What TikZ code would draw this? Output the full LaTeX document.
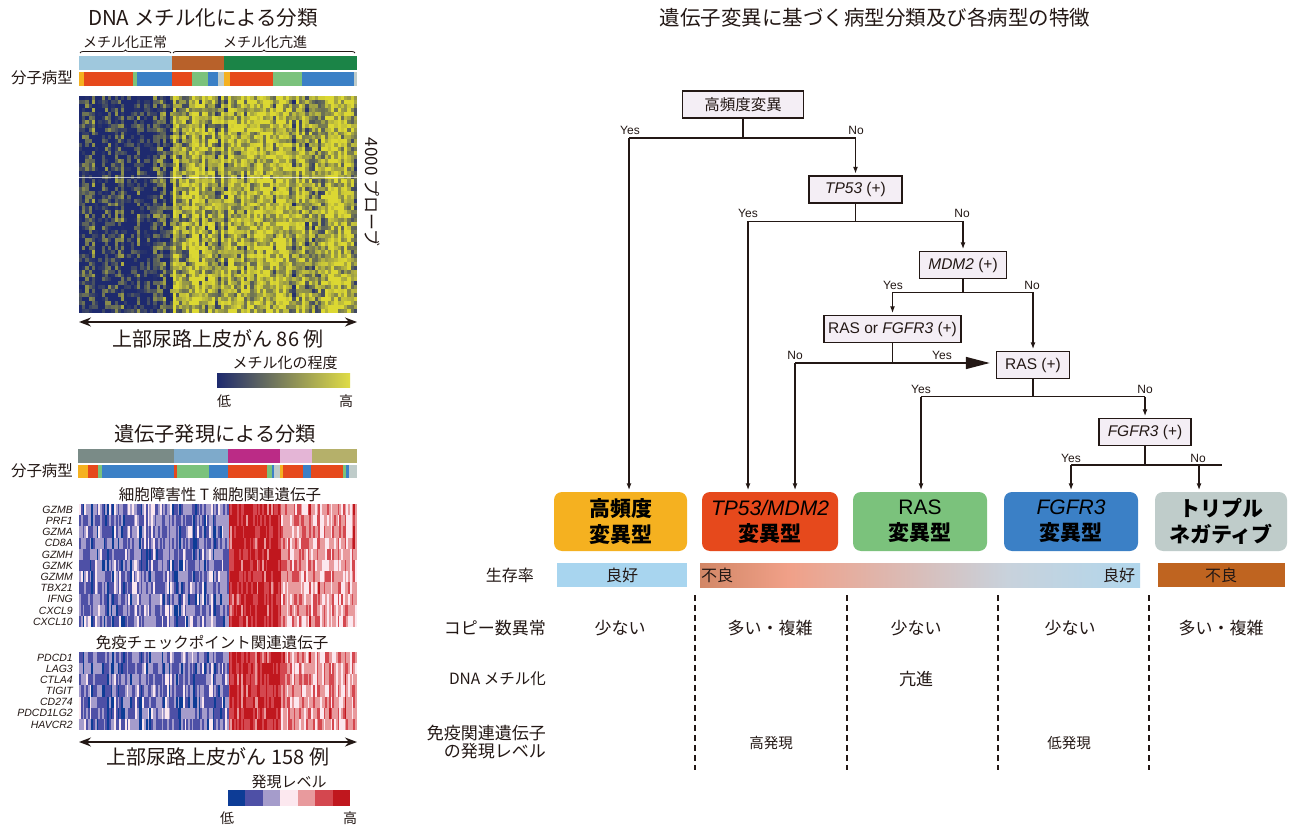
\documentclass[tikz,border=0pt]{standalone}
\usepackage{fontspec}
\setmainfont{Liberation Sans}
\newfontfamily\jp{Noto Sans CJK JP}
\usetikzlibrary{arrows.meta,decorations.pathreplacing}
\definecolor{ink}{HTML}{231815}
\definecolor{hmlo}{HTML}{1E2A6E}
\definecolor{hmhi}{HTML}{DCD832}
\definecolor{e1}{HTML}{0D3C96}
\definecolor{e2}{HTML}{4E50A6}
\definecolor{e3}{HTML}{A59CCB}
\definecolor{e4}{HTML}{FCE8EF}
\definecolor{e5}{HTML}{E89A9D}
\definecolor{e6}{HTML}{D4474F}
\definecolor{e7}{HTML}{C0171E}
\definecolor{cHF}{HTML}{F5B120}
\definecolor{cTP}{HTML}{E6491C}
\definecolor{cRAS}{HTML}{7BC27C}
\definecolor{cFG}{HTML}{3B80C6}
\definecolor{cTN}{HTML}{BFCCCA}
\definecolor{mNorm}{HTML}{9FC8DD}
\definecolor{mBrown}{HTML}{B8612A}
\definecolor{mGreen}{HTML}{1B8447}
\definecolor{gGrey}{HTML}{7A8B87}
\definecolor{gSteel}{HTML}{7EAACB}
\definecolor{gMag}{HTML}{BB2B86}
\definecolor{gPink}{HTML}{E4B5D6}
\definecolor{gOlive}{HTML}{B5B06A}
\definecolor{sLight}{HTML}{A8D5EF}
\definecolor{sBrown}{HTML}{BF6420}
\definecolor{gA}{HTML}{9C5A2A}
\definecolor{gB}{HTML}{F0A088}
\definecolor{gC}{HTML}{C8D2DC}
\definecolor{gD}{HTML}{A9D8F2}
\definecolor{fbfill}{HTML}{F4EEF5}
\pgfdeclarehorizontalshading{surv}{100bp}{color(0bp)=(gA); color(14bp)=(gA!75!gB); color(35bp)=(gB); color(60bp)=(gC); color(80bp)=(gD); color(100bp)=(gD)}
\tikzset{
  ln/.style={draw=ink, line width=1.5pt},
  arr/.style={ln, -{Latex[length=7pt,width=5pt]}, shorten >=1.5pt},
  bigarr/.style={ln, -{Triangle[length=24pt,width=12pt]}, shorten >=6pt},
  dbl/.style={line width=1.6pt, draw=ink, {Stealth[length=12pt,width=9pt]}-{Stealth[length=12pt,width=9pt]}},
  fbox/.style={draw=ink, line width=1.4pt, fill=fbfill, minimum height=27pt, inner sep=0pt, font=\fontsize{15.5}{17}\selectfont, text=ink},
  yn/.style={font=\fontsize{12}{13}\selectfont, text=ink, inner sep=0pt},
  sbox/.style={rounded corners=8pt, minimum height=59pt, inner sep=0pt, align=center, text=black, font=\jp\bfseries\fontsize{21}{26}\selectfont},
  jt/.style={font=\jp\fontsize{16}{19}\selectfont, text=ink, inner sep=0pt},
  tb/.style={font=\jp\fontsize{17}{20}\selectfont, text=ink, inner sep=0pt},
  gene/.style={font=\itshape\fontsize{10.5}{11}\selectfont, text=ink, anchor=east, inner sep=0pt},
  divider/.style={draw=ink, line width=1.2pt, dash pattern=on 6pt off 4pt},
  brc/.style={draw=ink, line width=0.8pt, decorate, decoration={brace, amplitude=3pt}},
}
\begin{document}
\begin{tikzpicture}[x=1pt,y=-1pt]
\useasboundingbox (0,0) rectangle (1294,829);
\fill[white] (0,0) rectangle (1294,829);
% ================= LEFT TOP: methylation =================
\node[jt, font=\jp\fontsize{20.5}{24}\selectfont] (t1) at (203,18) {DNA メチル化による分類};
\node[jt, font=\jp\fontsize{14}{16}\selectfont] (mn) at (125,42) {メチル化正常};
\node[jt, font=\jp\fontsize{14}{16}\selectfont] (mh) at (265,42) {メチル化亢進};
\draw[brc] (80,53) -- (171,53);
\draw[brc] (173,53) -- (355,53);
\fill[mNorm] (79,56) rectangle (172,70);
\fill[mBrown] (172,56) rectangle (224,70);
\fill[mGreen] (224,56) rectangle (357,70);
\foreach \a/\b/\col in {79/84/cHF,84/133/cTP,133/137/cRAS,137/172/cFG,172/192/cTP,192/208/cRAS,208/218/cFG,218/224/cTN,224/230/cHF,230/273/cTP,273/302/cRAS,302/354/cFG,354/357/cTN}
  {\fill[\col] (\a,72) rectangle (\b,86);}
\node[jt, font=\jp\fontsize{15.5}{18}\selectfont] (mt1) at (42,78) {分子病型};
\pgfmathsetseed{3}
\foreach \c in {0,...,85}{%
  \pgfmathsetmacro\cb{(\c<29 ? 10 : 74) + 60*(rnd-0.5)}%
  \foreach \r in {0,...,54}{%
    \pgfmathtruncatemacro\v{max(0,min(100,\cb+90*(rnd-0.5)))}%
    \pgfsetfillcolor{hmhi!\v!hmlo}%
    \pgfpathrectangle{\pgfpointxy{79+3.2326*\c}{96+3.945*\r}}{\pgfpointxy{3.3}{4.0}}%
    \pgfusepath{fill}%
  }%
}
\draw[white, line width=0.7pt, opacity=0.7] (79,177) -- (357,177);
\node[jt, rotate=-90, font=\jp\fontsize{17}{19}\selectfont] (probe) at (372,192) {4000 プローブ};
\coordinate (d1l) at (79,322);
\coordinate (d1r) at (357,322);
\draw[dbl] (d1l) -- (d1r);
\node[jt, font=\jp\fontsize{20}{23}\selectfont] (n86) at (218,339) {上部尿路上皮がん 86 例};
\node[jt, font=\jp\fontsize{15}{17}\selectfont] (mlev) at (285,363) {メチル化の程度};
\shade[left color=hmlo, middle color=hmhi!45!hmlo, right color=hmhi!90!white] (217,373) rectangle (350,387);
\node[jt, font=\jp\fontsize{14}{16}\selectfont] (lo1) at (224,401) {低};
\node[jt, font=\jp\fontsize{14}{16}\selectfont] (hi1) at (346,401) {高};
% ================= LEFT BOTTOM: expression =================
\node[jt, font=\jp\fontsize{20.2}{24}\selectfont] (t2) at (215,434) {遺伝子発現による分類};
\fill[gGrey] (78,449) rectangle (174,463);
\fill[gSteel] (174,449) rectangle (228,463);
\fill[gMag] (228,449) rectangle (280,463);
\fill[gPink] (280,449) rectangle (312,463);
\fill[gOlive] (312,449) rectangle (357,463);
\foreach \a/\b/\col in {78/88/cHF,88/98/cTP,98/102/cRAS,102/174/cFG,174/177/cTP,177/209/cRAS,209/228/cFG,228/267/cTP,267/272/cRAS,272/274/cFG,274/280/cTN,280/283/cHF,283/303/cTP,303/311/cFG,311/343/cTP,343/346/cRAS,346/349/cFG,349/357/cTN}
  {\fill[\col] (\a,465) rectangle (\b,478);}
\node[jt, font=\jp\fontsize{15.5}{18}\selectfont] (mt2) at (42,471) {分子病型};
\node[jt, font=\jp\fontsize{15.5}{18}\selectfont] (ctl) at (220,495) {細胞障害性 T 細胞関連遺伝子};
\node[jt, font=\jp\fontsize{15.5}{18}\selectfont] (icp) at (212,643) {免疫チェックポイント関連遺伝子};
\pgfmathsetseed{11}
\foreach \c in {0,...,157}{%
  \pgfmathsetmacro\cb{(\c<85 ? 2.55 : (\c<115 ? 6.5 : (\c<133 ? 5.2 : 5.0))) + 1.5*(rnd-0.5)}%
  \foreach \r in {0,...,10}{%
    \pgfmathtruncatemacro\lv{max(1,min(7,round(\cb+2.2*(rnd-0.5))))}%
    \pgfsetfillcolor{e\lv}%
    \pgfpathrectangle{\pgfpointxy{79+1.7595*\c}{504+11.2*\r}}{\pgfpointxy{1.8}{11.25}}%
    \pgfusepath{fill}%
  }%
  \foreach \r in {0,...,6}{%
    \pgfmathtruncatemacro\lv{max(1,min(7,round(\cb+2.2*(rnd-0.5))))}%
    \pgfsetfillcolor{e\lv}%
    \pgfpathrectangle{\pgfpointxy{79+1.7595*\c}{652+11.14*\r}}{\pgfpointxy{1.8}{11.2}}%
    \pgfusepath{fill}%
  }%
}
\foreach \g [count=\i from 0] in {GZMB,PRF1,GZMA,CD8A,GZMH,GZMK,GZMM,TBX21,IFNG,CXCL9,CXCL10}
  {\node[gene] (ga\i) at (73,509.6+11.2*\i) {\g};}
\foreach \g [count=\i from 0] in {PDCD1,LAG3,CTLA4,TIGIT,CD274,PDCD1LG2,HAVCR2}
  {\node[gene] (gb\i) at (73,657.6+11.14*\i) {\g};}
\coordinate (d2l) at (79,742);
\coordinate (d2r) at (357,742);
\draw[dbl] (d2l) -- (d2r);
\node[jt, font=\jp\fontsize{20}{23}\selectfont] (n158) at (218,757) {上部尿路上皮がん 158 例};
\node[jt, font=\jp\fontsize{15}{17}\selectfont] (elev) at (289,782) {発現レベル};
\foreach \k in {1,...,7}{\fill[e\k] (228+17.43*\k-17.43,790) rectangle (228+17.43*\k,806);}
\node[jt, font=\jp\fontsize{14}{16}\selectfont] (lo2) at (227,818) {低};
\node[jt, font=\jp\fontsize{14}{16}\selectfont] (hi2) at (350,818) {高};
% ================= RIGHT: flowchart =================
\node[jt, font=\jp\fontsize{20.5}{24}\selectfont] (t3) at (875,18) {遺伝子変異に基づく病型分類及び各病型の特徴};
\node[fbox, minimum width=121pt, font=\jp\fontsize{15.5}{17}\selectfont] (hf) at (743,104.5) {高頻度変異};
\node[fbox, minimum width=93pt] (tp) at (855.5,189.5) {\textit{TP53} (+)};
\node[fbox, minimum width=87pt] (mdm) at (963,265) {\textit{MDM2} (+)};
\node[fbox, minimum width=137pt] (rf) at (892.5,329) {RAS or \textit{FGFR3} (+)};
\node[fbox, minimum width=73pt] (ras) at (1033,365) {RAS (+)};
\node[fbox, minimum width=92pt] (fg) at (1145,432) {\textit{FGFR3} (+)};
\node[sbox, fill=cHF, minimum width=133pt] (s1) at (620.5,521.5) {高頻度\\変異型};
\node[sbox, fill=cTP, minimum width=136pt] (s2) at (770,521.5) {{\rmfamily\mdseries\itshape TP53/MDM2}\\変異型};
\node[sbox, fill=cRAS, minimum width=134pt] (s3) at (920,521.5) {{\rmfamily\mdseries RAS}\\変異型};
\node[sbox, fill=cFG, minimum width=134pt] (s4) at (1071,521.5) {{\rmfamily\mdseries\itshape FGFR3}\\変異型};
\node[sbox, fill=cTN, minimum width=132pt] (s5) at (1221,521.5) {トリプル\\ネガティブ};
% level 1
\coordinate (a1) at (629,138);
\coordinate (b1) at (855.5,138);
\draw[ln] (hf.south) -- (hf.south |- a1);
\draw[ln] (a1) -- (b1);
\draw[arr] (a1) -- (a1 |- s1.north);
\draw[arr] (b1) -- (tp.north);
\node[yn] at (630,130) {Yes};
\node[yn] at (856,130) {No};
% level 2
\coordinate (a2) at (748,221.5);
\coordinate (b2) at (963,221.5);
\draw[ln] (tp.south) -- (tp.south |- a2);
\draw[ln] (a2) -- (b2);
\draw[arr] (a2) -- (a2 |- s2.north);
\draw[arr] (b2) -- (mdm.north);
\node[yn] at (748,213) {Yes};
\node[yn] at (962,213) {No};
% level 3
\coordinate (a3) at (892.5,292.5);
\coordinate (b3) at (1033,292.5);
\draw[ln] (mdm.south) -- (mdm.south |- a3);
\draw[ln] (a3) -- (b3);
\draw[arr] (a3) -- (rf.north);
\draw[arr] (b3) -- (ras.north);
\node[yn] at (893,285) {Yes};
\node[yn] at (1032,285) {No};
% level 4
\coordinate (a4) at (795,363);
\draw[ln] (rf.south) -- (rf.south |- a4);
\draw[bigarr] (a4) -- (ras.west |- a4);
\draw[arr] (a4) -- (a4 |- s2.north);
\node[yn] at (795,355) {No};
\node[yn] at (942,355) {Yes};
% level 5
\coordinate (a5) at (921,396.5);
\coordinate (b5) at (1145,396.5);
\draw[ln] (ras.south) -- (ras.south |- a5);
\draw[ln] (a5) -- (b5);
\draw[arr] (a5) -- (a5 |- s3.north);
\draw[arr] (b5) -- (fg.north);
\node[yn] at (921,389) {Yes};
\node[yn] at (1145,389) {No};
% level 6
\coordinate (a6) at (1071,465);
\coordinate (b6) at (1199,465);
\coordinate (c6) at (1222,465);
\draw[ln] (fg.south) -- (fg.south |- a6);
\draw[ln] (a6) -- (c6);
\draw[arr] (a6) -- (a6 |- s4.north);
\draw[arr] (b6) -- (b6 |- s5.north);
\node[yn] at (1071,458) {Yes};
\node[yn] at (1198,458) {No};
% ================= survival & table =================
\node[jt, anchor=east] (lsurv) at (534,575) {生存率};
\fill[sLight] (557,563) rectangle (687,587);
\node[jt] (sv1) at (622,575) {良好};
\shade[shading=surv] (700,563) rectangle (1140,587);
\node[jt] (sv2) at (717,575) {不良};
\node[jt] (sv3) at (1119,575) {良好};
\fill[sBrown] (1158,563) rectangle (1285,587);
\node[jt] (sv4) at (1221,575) {不良};
\foreach \x in {695,847,998,1149}{\draw[divider] (\x,595) -- (\x,770);}
\node[tb, anchor=east] (lcn) at (546,628) {コピー数異常};
\node[tb, anchor=east, font=\jp\fontsize{15.5}{18}\selectfont] (ldna) at (546,679) {DNA メチル化};
\node[tb, anchor=east, align=right, font=\jp\fontsize{17}{18}\selectfont] (limm) at (546,742) {免疫関連遺伝子\\の発現レベル};
\node[tb] (cn1) at (620,628) {少ない};
\node[tb] (cn2) at (770,628) {多い・複雑};
\node[tb] (cn3) at (916,628) {少ない};
\node[tb] (cn4) at (1070,628) {少ない};
\node[tb] (cn5) at (1221,628) {多い・複雑};
\node[tb] (dm3) at (916,679) {亢進};
\node[tb, font=\jp\fontsize{14.5}{16}\selectfont] (im2) at (771,743) {高発現};
\node[tb, font=\jp\fontsize{14.5}{16}\selectfont] (im4) at (1069,743) {低発現};
\end{tikzpicture}
\end{document}
